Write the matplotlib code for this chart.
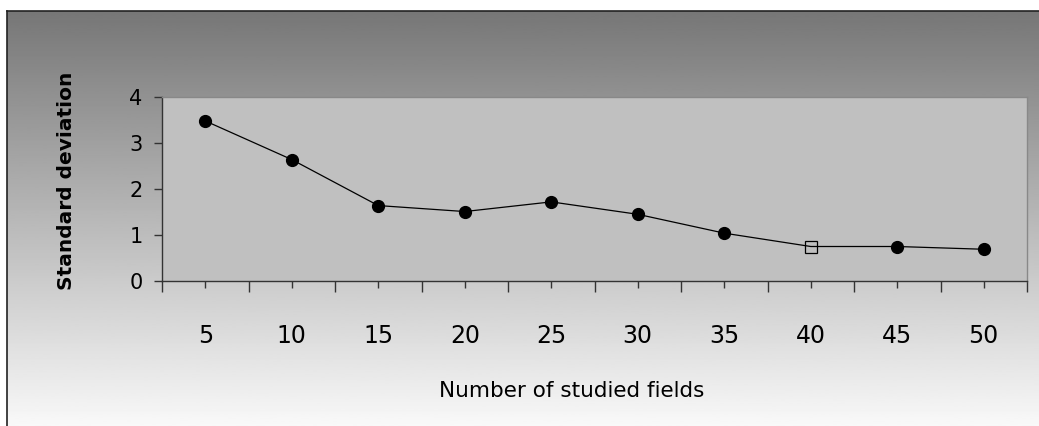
import numpy as np
import matplotlib
matplotlib.use("Agg")
import matplotlib.pyplot as plt

# ---- data ----
categories = ["5", "10", "15", "20", "25", "30", "35", "40", "45", "50"]
std_dev = [3.48, 2.64, 1.64, 1.51, 1.72, 1.45, 1.04, 0.75, 0.75, 0.69]
highlight_index = 7  # the "40" point drawn as open square
y_ticks = [0, 1, 2, 3, 4]
x_label = "Number of studied fields"
y_label = "Standard deviation"

W, H = 1039, 426
fig = plt.figure(figsize=(W / 100, H / 100), dpi=100)
fig.patch.set_facecolor("white")

# background gradient panel with border
bx0, by_top = 7 / W, 1 - 11 / H
bg = fig.add_axes([bx0, 0, 1 - bx0, by_top], zorder=0)
grad = np.linspace(0.465, 0.975, 256).reshape(-1, 1)
bg.imshow(grad, aspect="auto", cmap="gray", vmin=0, vmax=1,
          extent=[0, 1, 0, 1], origin="upper")
bg.set_xlim(0, 1)
bg.set_ylim(0, 1)
bg.set_xticks([])
bg.set_yticks([])
for s in ["left", "top"]:
    bg.spines[s].set_color("#222222")
    bg.spines[s].set_linewidth(1.2)
for s in ["right", "bottom"]:
    bg.spines[s].set_visible(False)

# main axes
left, right = 162 / W, 1027 / W
bottom, top = 1 - 281 / H, 1 - 97 / H
ax = fig.add_axes([left, bottom, right - left, top - bottom], zorder=2)
ax.set_facecolor("#c0c0c0")

x = np.arange(1, len(categories) + 1)
ax.plot(x, std_dev, color="black", linewidth=0.9, zorder=3)
mask = [i != highlight_index for i in range(len(x))]
ax.plot(x[mask], np.array(std_dev)[mask], linestyle="none", marker="o",
        markersize=8.5, color="black", zorder=4)
ax.plot([x[highlight_index]], [std_dev[highlight_index]], linestyle="none",
        marker="s", markersize=8, markerfacecolor="none",
        markeredgecolor="black", markeredgewidth=0.9, zorder=4)

ax.set_xlim(0.5, len(categories) + 0.5)
ax.set_ylim(0, 4)
ax.set_yticks(y_ticks)
ax.set_yticklabels([str(t) for t in y_ticks], fontsize=15)
ax.set_xticks(x)
ax.set_xticklabels(categories, fontsize=17)
ax.set_xticks(np.arange(0.5, len(categories) + 1, 1.0), minor=True)

ax.tick_params(axis="y", direction="out", length=6, width=1, color="#333333",
               pad=8, labelcolor="black")
ax.tick_params(axis="x", which="major", direction="out", length=5, width=1,
               color="#333333", pad=26, labelcolor="black")
ax.tick_params(axis="x", which="minor", direction="out", length=8, width=1,
               color="#333333")

ax.spines["left"].set_color("#333333")
ax.spines["bottom"].set_color("#333333")
ax.spines["left"].set_linewidth(1.0)
ax.spines["bottom"].set_linewidth(1.0)
ax.spines["top"].set_color("#888888")
ax.spines["right"].set_color("#888888")
ax.spines["top"].set_linewidth(1.0)
ax.spines["right"].set_linewidth(1.0)

fig.text(67 / W, 1 - 181 / H, y_label, rotation=90, ha="center", va="center",
         fontsize=14.5, fontweight="bold", color="black", zorder=5)
fig.text(572 / W, 1 - 391 / H, x_label, ha="center", va="center",
         fontsize=15.5, color="black", zorder=5)

fig.savefig("out.png", dpi=100, facecolor=fig.get_facecolor())
